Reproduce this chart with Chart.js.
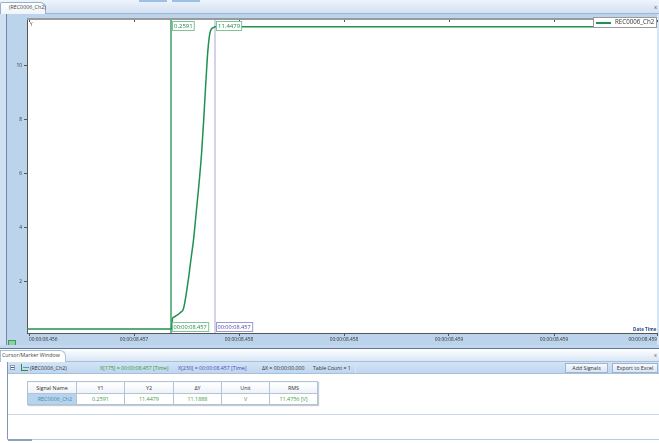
<!DOCTYPE html>
<html>
<head>
<meta charset="utf-8">
<script src="https://cdn.jsdelivr.net/npm/chart.js@4.4.1/dist/chart.umd.min.js"></script>
<style>
  html,body{margin:0;padding:0;}
  body{width:659px;height:443px;overflow:hidden;position:relative;background:#fff;font-family:"Open Sans","DejaVu Sans",sans-serif;color:#333;}
  .abs{position:absolute;}
  .t{position:absolute;white-space:nowrap;line-height:1;}
  #topbar{left:0;top:0;width:659px;height:14px;background:linear-gradient(#eef4fb,#d2e1f3);border-bottom:1px solid #9fb5cf;box-sizing:border-box;}
  #tab1{left:0;top:2px;width:46px;height:12px;background:linear-gradient(#ffffff,#eef4fb);border:1px solid #98aecb;border-bottom:none;border-radius:2px 6px 0 0;box-sizing:border-box;}
  #panel{left:0;top:14px;width:659px;height:331px;background:#bcd3ec;}
  #panelL{left:0;top:14px;width:7px;height:331px;background:#cfe0f3;border-right:1px solid #6f88a8;box-sizing:border-box;}
  #panelR{left:657px;top:14px;width:2px;height:331px;background:#d6e5f5;}
  canvas{position:absolute;left:7px;top:14px;}
  #div1{left:0;top:345px;width:659px;height:4px;background:#c3d7ee;border-bottom:1px solid #5e7594;box-sizing:border-box;}
  #tabbar2{left:0;top:349px;width:659px;height:13px;background:linear-gradient(#ffffff,#d8e6f6);border-bottom:1px solid #a8bdd6;box-sizing:border-box;}
  #tab2{left:0;top:350px;width:66px;height:12px;background:#fff;border:1px solid #a8bdd6;border-bottom:none;border-radius:0 6px 0 0;box-sizing:border-box;}
  #rowbar{left:7px;top:362px;width:652px;height:12px;background:linear-gradient(#d3e4f6,#bfd6ef);border-bottom:1px solid #a9c0da;box-sizing:border-box;}
  #leftB{left:7px;top:362px;width:1px;height:78px;background:#7f98b8;}
  #botB{left:7px;top:439px;width:652px;height:1px;background:#b9cbe0;}
  #botB2{left:8px;top:439px;width:24px;height:2px;background:#8aa2c0;}
  .btn{position:absolute;top:363px;height:10px;background:linear-gradient(#f7faff,#d9e6f5);border:1px solid #9fb3cc;box-sizing:border-box;font-size:5.3px;text-align:center;line-height:9px;color:#333;}
  table{position:absolute;left:27px;top:381px;border-collapse:collapse;font-size:5.4px;box-shadow:1px 1px 1px #c4cbd4;}
  td,th{border:1px solid #b3c3d6;height:11px;padding:0;text-align:center;font-weight:normal;box-sizing:border-box;}
  th{background:linear-gradient(#ffffff,#eef2f7);color:#333;height:12px;}
  td{color:#3e9a3e;background:#fff;}
  td.first{background:#b7d3ef;color:#3a8f9a;text-align:right;padding-right:4px;}
  #sep{left:8px;top:414px;width:651px;height:1px;background:#c9d6e6;}
</style>
</head>
<body>
<div id="topbar" class="abs"></div>
<div class="abs" style="left:139px;top:0;width:28px;height:2px;background:#9cc0e8;"></div>
<div class="abs" style="left:172px;top:0;width:28px;height:2px;background:#9cc0e8;"></div>
<div id="tab1" class="abs"></div>
<div class="t" style="left:9px;top:5px;font-size:5.3px;color:#444;">(REC0006_Ch2)</div>
<div class="t" style="left:654px;top:4px;font-size:6px;color:#555;">x</div>

<div id="panel" class="abs"></div>
<div id="panelL" class="abs"></div>
<div id="panelR" class="abs"></div>
<canvas id="c" width="652" height="331"></canvas>

<div class="t" style="left:30px;top:22px;font-size:4.5px;color:#333;">Y</div>
<div class="t" style="left:633px;top:327px;font-size:4.6px;color:#2a4b8c;font-weight:bold;">Date Time</div>

<div class="abs" style="left:593px;top:17px;width:64px;height:11px;background:#fff;border:1px solid #9a9a9a;box-sizing:border-box;"></div>
<div class="abs" style="left:596px;top:22px;width:15px;height:1.5px;background:#1f9150;"></div>
<div class="t" style="left:615px;top:19px;font-size:6.2px;color:#333;">REC0006_Ch2</div>

<div class="abs" style="left:8px;top:340px;width:8px;height:6px;background:#8fd0a0;border:1px solid #3e9a5a;box-sizing:border-box;"></div>

<div id="div1" class="abs"></div>
<div id="tabbar2" class="abs"></div>
<div id="tab2" class="abs"></div>
<div class="t" style="left:2px;top:353px;font-size:5.3px;color:#444;">Cursor/Marker Window</div>
<div class="t" style="left:654px;top:353px;font-size:5.5px;color:#555;">x</div>

<div id="rowbar" class="abs"></div>
<div class="abs" style="left:10px;top:365px;width:5px;height:5px;border:1px solid #8c9cb0;box-sizing:border-box;background:#fff;"></div>
<div class="abs" style="left:11px;top:367px;width:3px;height:1px;background:#555;"></div>
<div class="abs" style="left:21px;top:364px;width:7px;height:7px;border-left:1px solid #2e8a3e;border-bottom:1px solid #2e8a3e;box-sizing:border-box;"></div>
<div class="abs" style="left:23px;top:367px;width:6px;height:3px;border-top:1px solid #4a9ad0;box-sizing:border-box;"></div>
<div class="t" style="left:30px;top:366px;font-size:5.3px;color:#333;">(REC0006_Ch2)</div>
<div class="t" style="left:100px;top:366px;font-size:5.2px;color:#2f9a2f;">X[175] = 00:00:08.457 [Time]</div>
<div class="t" style="left:178px;top:366px;font-size:5.2px;color:#4848b8;">X[230] = 00:00:08.457 [Time]</div>
<div class="t" style="left:262px;top:366px;font-size:5.2px;color:#333;">ΔX = 00:00:00.000</div>
<div class="t" style="left:313px;top:366px;font-size:5.2px;color:#333;">Table Count = 1</div>
<div class="abs" style="left:355px;top:363px;width:1px;height:10px;background:#d6e4f4;"></div>
<div class="btn" style="left:565px;width:43px;">Add Signals</div>
<div class="btn" style="left:612px;width:46px;">Export to Excel</div>

<div id="leftB" class="abs"></div>
<table id="tbl"></table>
<div id="sep" class="abs"></div>
<div id="botB" class="abs"></div>
<div id="botB2" class="abs"></div>

<script>
// ---- data ----
const sampleIdx = [-5, 175, 176, 177, 179, 181, 184, 186, 188, 190, 192, 194, 196, 197.5, 200, 203, 205, 207, 209, 211, 213.4, 216, 218.4, 221, 223, 224.5, 226, 228, 230, 782.5];
const voltage   = [0.2591, 0.2591, 0.30, 0.66, 0.70, 0.74, 0.80, 0.85, 0.90, 0.96, 1.20, 1.55, 1.95, 2.26, 2.85, 3.52, 4.10, 4.72, 5.32, 5.96, 6.84, 8.07, 9.31, 10.54, 11.10, 11.30, 11.38, 11.42, 11.4479, 11.4479];

const xTickPos    = [-2.5, 128.75, 260, 391.25, 522.5, 653.75, 782.5];
const xTickLabels = ['00:00:08.456','00:00:08.457','00:00:08.458','00:00:08.458','00:00:08.459','00:00:08.459','00:00:08.459'];
const yTickPos    = [2, 4, 6, 8, 10];

const cursorIdx   = [175, 230];
const cursorY     = ['0.2591', '11.4479'];
const cursorTime  = ['00:00:08.457', '00:00:08.457'];

const tableHeaders = ['Signal Name', 'Y1', 'Y2', '\u0394Y', 'Unit', 'RMS'];
const tableRow     = ['REC0006_Ch2', '0.2591', '11.4479', '11.1888', 'V', '11.4756 [V]'];

// ---- table ----
const tbl = document.getElementById('tbl');
const colW = [49, 48, 49, 48, 48, 48];
let h = '<tr>' + tableHeaders.map((t,i)=>`<th style="width:${colW[i]}px">${t}</th>`).join('') + '</tr>';
h += '<tr>' + tableRow.map((t,i)=>`<td class="${i===0?'first':''}">${t}</td>`).join('') + '</tr>';
tbl.innerHTML = h;

const YMIN = 0.11, YMAX = 11.7, XMIN = -5, XMAX = 782.5;
const GREEN = '#1f9150', LAV = '#a6a6d8';

const bgPlugin = {
  id: 'plotBg',
  beforeDraw(chart) {
    const {ctx, chartArea} = chart;
    ctx.save();
    ctx.fillStyle = '#ffffff';
    ctx.fillRect(chartArea.left, chartArea.top, chartArea.right - chartArea.left, chartArea.bottom - chartArea.top);
    ctx.restore();
  }
};

const cursorPlugin = {
  id: 'cursorLabels',
  afterDraw(chart) {
    const {ctx, chartArea, scales} = chart;
    ctx.save();
    ctx.strokeStyle = '#9a9a9a'; ctx.lineWidth = 2;
    ctx.beginPath(); ctx.moveTo(chartArea.left, chartArea.top - 1); ctx.lineTo(chartArea.right, chartArea.top - 1); ctx.stroke();
    ctx.strokeStyle = '#555'; ctx.lineWidth = 1;
    xTickPos.forEach(v => {
      const px = Math.round(scales.x.getPixelForValue(v)) + 0.5;
      ctx.beginPath(); ctx.moveTo(px, chartArea.top); ctx.lineTo(px, chartArea.top + 2); ctx.stroke();
    });
    const styles = [
      {border: '#7fc49a', text: '#1f8a45', tborder: '#7fc49a', ttext: '#1f8a45'},
      {border: '#7fc49a', text: '#1f8a45', tborder: '#9a9ad0', ttext: '#4848b0'}
    ];
    ctx.textBaseline = 'middle';
    cursorIdx.forEach((ci, k) => {
      const px = Math.round(scales.x.getPixelForValue(ci));
      const st = styles[k];
      ctx.font = '6px "Open Sans", sans-serif';
      let w = ctx.measureText(cursorY[k]).width + 3;
      ctx.fillStyle = '#fff'; ctx.fillRect(px + 1, chartArea.top + 1, w, 9);
      ctx.strokeStyle = st.border; ctx.strokeRect(px + 1.5, chartArea.top + 1.5, w, 9);
      ctx.fillStyle = st.text; ctx.fillText(cursorY[k], px + 3, chartArea.top + 6.5);
      ctx.font = '5.6px "Open Sans", sans-serif';
      w = ctx.measureText(cursorTime[k]).width + 3;
      const by = chartArea.bottom - 11;
      ctx.fillStyle = '#fff'; ctx.fillRect(px + 1, by, w, 9);
      ctx.strokeStyle = st.tborder; ctx.strokeRect(px + 1.5, by + 0.5, w, 9);
      ctx.fillStyle = st.ttext; ctx.fillText(cursorTime[k], px + 2.5, by + 5.5);
    });
    ctx.restore();
  }
};

new Chart(document.getElementById('c'), {
  type: 'line',
  data: {
    datasets: [
      {
        data: sampleIdx.map((x, i) => ({x, y: voltage[i]})),
        borderColor: GREEN, borderWidth: 1.5, pointRadius: 0, tension: 0,
        cubicInterpolationMode: 'monotone'
      },
      {
        data: [{x: cursorIdx[0], y: YMIN}, {x: cursorIdx[0], y: YMAX}],
        borderColor: GREEN, borderWidth: 1.3, pointRadius: 0
      },
      {
        data: [{x: cursorIdx[1], y: YMIN}, {x: cursorIdx[1], y: YMAX}],
        borderColor: LAV, borderWidth: 1, pointRadius: 0
      }
    ]
  },
  options: {
    responsive: false, animation: false, devicePixelRatio: 1,
    layout: {padding: {top: 6, right: 2, left: 0, bottom: 0}},
    plugins: {legend: {display: false}, tooltip: {enabled: false}},
    scales: {
      x: {
        type: 'linear', min: XMIN, max: XMAX,
        afterBuildTicks: s => { s.ticks = xTickPos.map(v => ({value: v})); },
        afterFit: s => { s.height = 12; },
        ticks: {
          autoSkip: false, maxRotation: 0, minRotation: 0, align: 'inner', padding: 1,
          font: {size: 4.8, family: '"Open Sans", sans-serif'}, color: '#333',
          callback: (v, i) => xTickLabels[i]
        },
        grid: {drawOnChartArea: false, tickLength: 3, color: '#555'},
        border: {color: '#555', width: 1}
      },
      y: {
        min: YMIN, max: YMAX,
        afterBuildTicks: s => { s.ticks = yTickPos.map(v => ({value: v})); },
        afterFit: s => { s.width = 20; },
        ticks: {font: {size: 4.8, family: '"Open Sans", sans-serif'}, color: '#333', padding: 2,
                callback: v => String(v)},
        grid: {drawOnChartArea: false, tickLength: 3, color: '#555'},
        border: {color: '#555', width: 1}
      }
    }
  },
  plugins: [bgPlugin, cursorPlugin]
});
</script>
</body>
</html>
